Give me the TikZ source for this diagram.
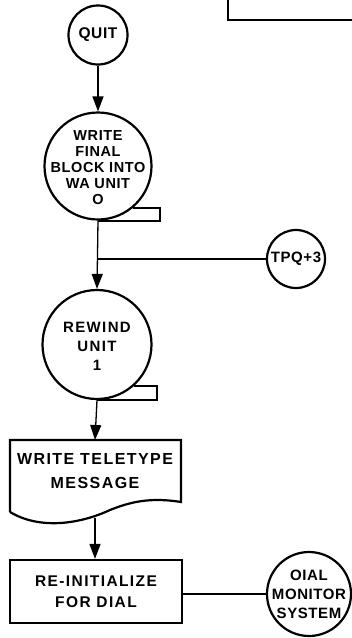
\documentclass[tikz,border=0pt]{standalone}
\usepackage{fontspec}
\newfontfamily\lettering[LetterSpace=4]{Liberation Sans}
\newfontfamily\letteringwide[LetterSpace=9]{Liberation Sans}
\usetikzlibrary{arrows.meta}

\begin{document}
\begin{tikzpicture}[
  x=1pt, y=-1pt,
  term/.style={circle, draw, line width=2.2pt, inner sep=0pt},
  tape/.style={circle, draw, line width=2.2pt, inner sep=0pt, minimum size=107pt},
  txt/.style={align=center, inner sep=0pt, font=\lettering\bfseries\fontsize{14.5}{16}\selectfont},
  boxtxt/.style={align=center, inner sep=0pt, font=\letteringwide\bfseries\fontsize{16}{24}\selectfont},
  proc/.style={rectangle, draw, line width=2.2pt, minimum width=172pt, minimum height=63pt},
  arr/.style={-{Triangle[length=15pt, width=11pt]}, line width=1.3pt},
  wire/.style={line width=1.3pt}
]
  \useasboundingbox (0,0) rectangle (352,638);

  % cut-off box at the top
  \draw[line width=2.2pt] (228,0) |- (360,20);

  \node[term, minimum size=59pt] (quit) at (98,35) {};
  \node[txt, font=\lettering\bfseries\fontsize{15.5}{16}\selectfont] (quitt) at (quit) {QUIT};

  \node[tape] (final) at (98,166) {};
  \node[txt] (finalt) at (98,168) {WRITE\\FINAL\\BLOCK INTO\\WA UNIT\\O};
  \draw[line width=2.2pt] (final.-50) -- ++(27,0) |- (final.south);

  \node[term, minimum size=58pt] (tpq) at (296,259) {};
  \node[txt, font=\lettering\bfseries\fontsize{15}{16}\selectfont] (tpqt) at (tpq) {TPQ+3};

  \node[tape, minimum size=109pt] (rewind) at (97,344.5) {};
  \node[txt, font=\letteringwide\bfseries\fontsize{15}{19}\selectfont] (rewindt) at (97,346) {REWIND\\UNIT\\1};
  \draw[line width=2.2pt] (rewind.-48) -- ++(23,0) |- (rewind.south);

  % teletype document
  \draw[line width=2.2pt] (10,512) -- (10,440) -- (181,440) -- (181,502)
    .. controls (150,497) and (130,502) .. (110,510)
    .. controls (80,524) and (40,530) .. (10,512);
  \node[boxtxt] (msg) at (95,471) {WRITE TELETYPE\\MESSAGE};
  \coordinate (msgout) at (95,518);

  \node[proc] (init) at (96,591.5) {};
  \node[boxtxt, font=\letteringwide\bfseries\fontsize{15.5}{21}\selectfont] (initt) at (init) {RE-INITIALIZE\\FOR DIAL};

  \node[term, minimum size=84pt] (dial) at (309,594) {};
  \node[txt, font=\lettering\bfseries\fontsize{15}{19}\selectfont] (dialt) at (dial) {OIAL\\MONITOR\\SYSTEM};

  % connexions
  \draw[arr] (quit) -- (final);
  \draw[arr] (final.south) -- (rewind.north);
  \draw[wire] (tpq.west) -- (tpq.west -| final.south);
  \draw[arr] (rewind.south) -- (msg.north |- 0,440);
  \draw[arr] (msgout) -- (init.north -| msgout);
  \draw[wire] (init.east |- dial.west) -- (dial.west);
\end{tikzpicture}
\end{document}
